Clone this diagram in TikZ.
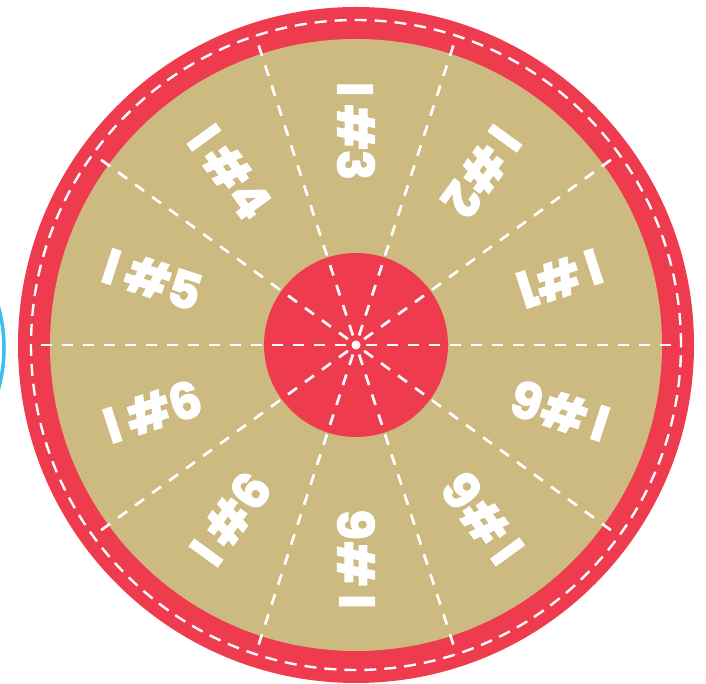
\documentclass[tikz,border=0pt]{standalone}
\usepackage{fontspec}
\usetikzlibrary{calc}
\newfontfamily\labfont{Poppins}[BoldFeatures={FakeBold=2.5}]
\definecolor{wheelred}{RGB}{238,60,78}
\definecolor{wheeltan}{RGB}{205,186,128}
\definecolor{edgeblue}{RGB}{60,190,240}
\tikzset{
  radial/.style={draw=white, line width=2.7bp, dash pattern=on 11bp off 10bp, dash phase=11bp},
  ringdash/.style={draw=white, line width=2.4bp, dash pattern=on 12bp off 8bp},
  lab/.style={text=white, font=\labfont\bfseries\fontsize{50}{50}\selectfont, inner sep=0pt, anchor=center}
}
\begin{document}
\begin{tikzpicture}[x=1bp,y=1bp]
\useasboundingbox (0,0) rectangle (706,684);
\begin{scope}
\clip (0,0) rectangle (706,684);
\draw[edgeblue, line width=3.5bp] (-150,336) circle (154);
\end{scope}
\coordinate (c) at (356,339);
\fill[wheelred] (c) circle (338);
\fill[wheeltan] (c) circle (306);
\fill[wheelred] (c) circle (92);
\draw[ringdash] (c) circle (325);
\foreach \a in {0,36,...,324} {
  \coordinate (e\a) at ($(c)+(\a:325)$);
  \draw[radial] (c) -- (e\a);
}
\fill[white] (c) circle (4.5);
\foreach \a/\t/\n in {18/1/l1,54/2/l2,90/3/l3,126/4/l4,162/5/l5,198/6/l6,234/6/l7,270/6/l8,306/6/l9,342/6/l10} {
  \node[lab, rotate=\a+180] (\n) at ($(c)+(\a:214)$) {I\,\#\t};
}
\end{tikzpicture}
\end{document}
